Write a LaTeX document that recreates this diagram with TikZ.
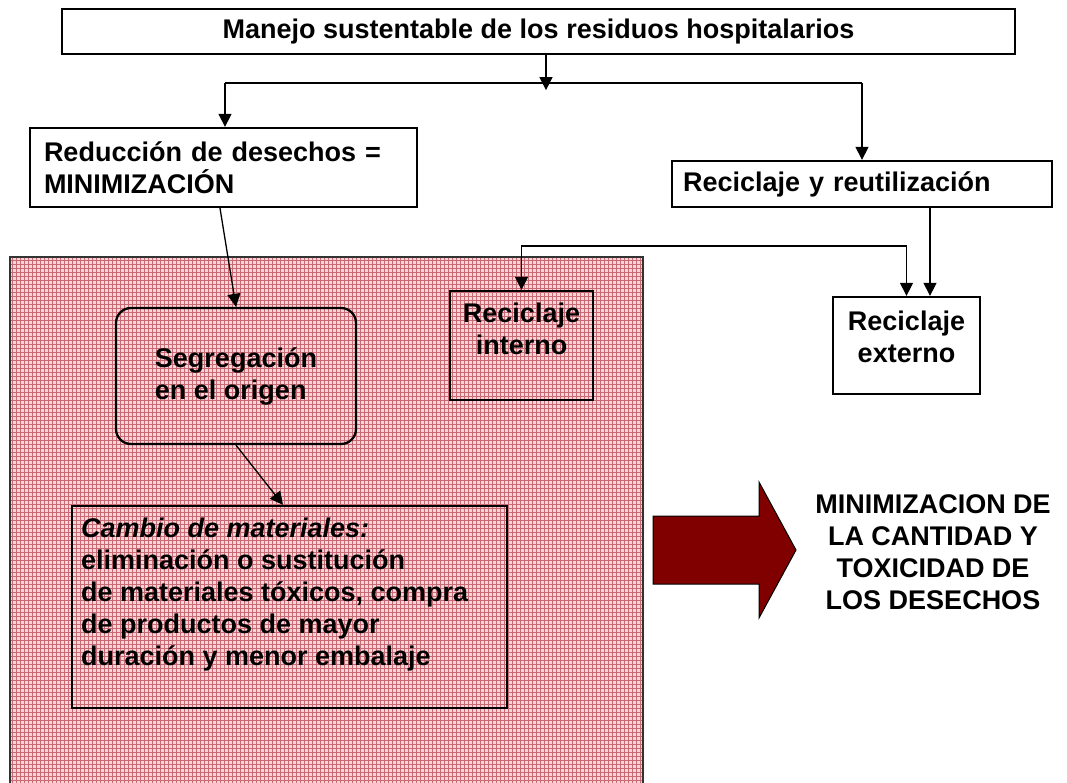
\documentclass[tikz,border=0pt]{standalone}
\usepackage{fontspec}
\setmainfont{Liberation Sans}
\usetikzlibrary{arrows.meta}
\definecolor{pinkbg}{RGB}{244,214,216}
\definecolor{gridred}{RGB}{200,105,115}
\definecolor{arrowred}{RGB}{128,0,0}
\begin{document}
\begin{tikzpicture}[x=1pt,y=-1pt,
  font=\fontsize{27}{32}\selectfont\bfseries,
  box/.style={draw=black, line width=2.3pt, inner sep=0pt},
  lbl/.style={inner sep=0pt},
  conn/.style={line width=1.3pt, -{Triangle[width=13pt,length=13pt]}},
  biconn/.style={line width=1.3pt, {Triangle[width=13pt,length=13pt]}-{Triangle[width=13pt,length=13pt]}},
  plain/.style={line width=1.3pt}]
\useasboundingbox (0,0) rectangle (1067,783);
\fill[white] (0,0) rectangle (1067,783);

% patterned background region
\fill[pinkbg] (10,257) rectangle (643,783);
\begin{scope}
  \clip (10,257) rectangle (643,783);
  \draw[gridred, line width=0.9pt, step=4pt] (10,257) grid (643,783);
\end{scope}
\draw[line width=2pt, draw=black!80] (10,783) -- (10,257) -- (643,257) -- (643,783);

% boxes
\node[box, minimum width=953, minimum height=45] (top) at (538.5,31.5)
  {Manejo sustentable de los residuos hospitalarios};
\node[box, minimum width=387, minimum height=79, text width=359, align=left] (red) at (223.5,167.5)
  {Reducción de desechos =\\MINIMIZACIÓN};
\node[box, minimum width=380, minimum height=46, text width=358, align=left] (rec) at (862,184)
  {Reciclaje y reutilización};
\node[box, rounded corners=15pt, minimum width=240, minimum height=136, align=left] (seg) at (236,376)
  {Segregación\\en el origen};
\node[box, minimum width=143, minimum height=109] (rint) at (521.5,345.5) {};
\node[lbl, anchor=north, align=center] (rintt) at ([yshift=-13pt]rint.north) {Reciclaje\\interno};
\node[box, minimum width=147, minimum height=97] (rext) at (906.5,345.5) {};
\node[lbl, anchor=north, align=center] (rextt) at ([yshift=-15pt]rext.north) {Reciclaje\\externo};
\node[box, minimum width=435, minimum height=202] (cam) at (289.5,607) {};
\node[lbl, anchor=north west, align=left] (camt) at ([xshift=10pt,yshift=-13pt]cam.north west)
  {\textit{Cambio de materiales:}\\eliminación o sustitución\\de materiales tóxicos, compra\\de productos de mayor\\duración y menor embalaje};

% big arrow and result text
\draw[fill=arrowred, line width=1pt] (653,516) -- (759,516) -- (759,482) -- (796,550)
  -- (759,618) -- (759,584) -- (653,584) -- cycle;
\node[lbl, align=center] (minim) at (933,552)
  {MINIMIZACION DE\\LA CANTIDAD Y\\TOXICIDAD DE\\LOS DESECHOS};

% connectors
\coordinate (hl) at (225,83);
\coordinate (hr) at (862,83);
\draw[conn] ([xshift=7.5pt]top.south) -- ++(0,35);
\draw[plain] (hl) -- (hr);
\draw[conn] (hl) -- (hl |- red.north);
\draw[conn] (hr) -- (hr |- rec.north);
\draw[conn] ([xshift=-3.5pt]red.south) -- (seg.north);
\draw[conn] (seg.south) -- ([xshift=-6.5pt]cam.north);
\draw[conn] ([xshift=68pt]rec.south) -- ([xshift=68pt]rec.south |- rext.north);
\coordinate (c2) at (906.5,246);
\draw[biconn] (rint.north) |- (c2) -- (rext.north);
\end{tikzpicture}
\end{document}
